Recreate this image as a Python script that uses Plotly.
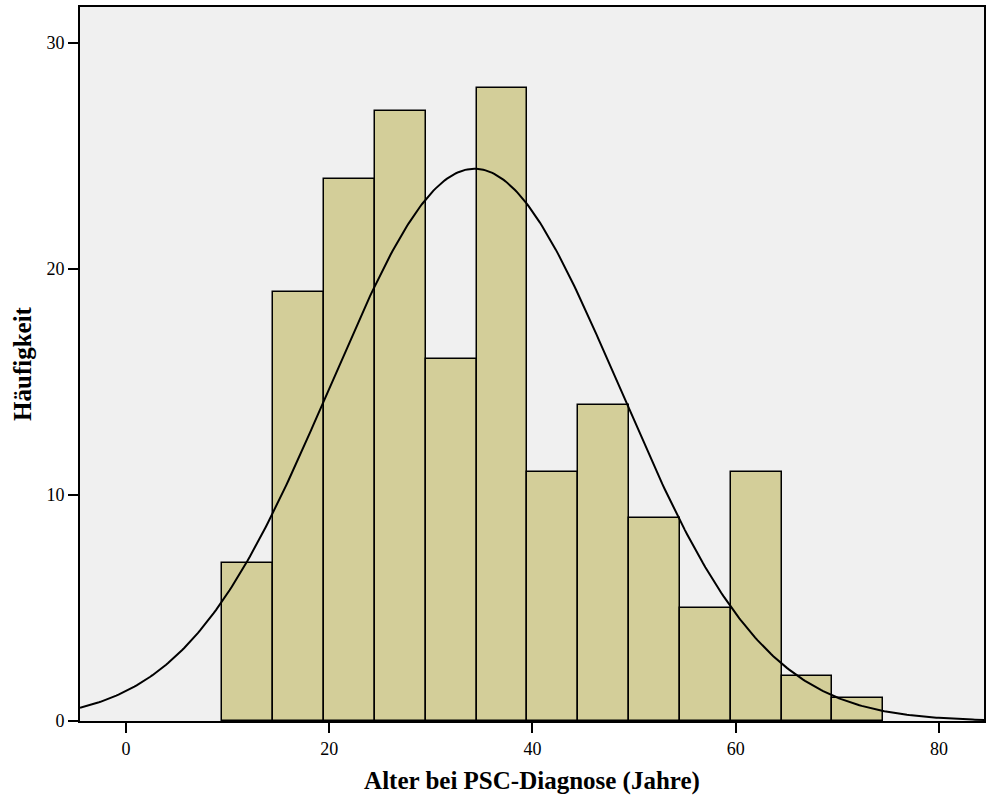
import numpy as np
import plotly.graph_objects as go

bin_centers = [12, 17, 22, 27, 32, 37, 42, 47, 52, 57, 62, 67, 72]
counts = [7, 19, 24, 27, 16, 28, 11, 14, 9, 5, 11, 2, 1]
bin_width = 5
fit_mean = 34.3
fit_sd = 14.2
n_total = sum(counts)

x_tick_vals = [0, 20, 40, 60, 80]
y_tick_vals = [0, 10, 20, 30]

x_range = [-4.515, 84.42]
xs = np.linspace(x_range[0], x_range[1], 400)
ys = n_total * bin_width / (fit_sd * np.sqrt(2 * np.pi)) * np.exp(-0.5 * ((xs - fit_mean) / fit_sd) ** 2)

fig = go.Figure()
fig.add_trace(go.Bar(
    x=bin_centers, y=counts, width=bin_width,
    marker=dict(color="#D3CE99", line=dict(color="black", width=1.5)),
    showlegend=False, hoverinfo="x+y"))
fig.add_trace(go.Scatter(
    x=xs, y=ys, mode="lines", line=dict(color="black", width=2),
    showlegend=False, hoverinfo="skip"))

axis_font = dict(family="Liberation Serif", size=18, color="black")
fig.update_layout(
    width=988, height=798,
    margin=dict(l=80, r=2, t=7, b=77),
    paper_bgcolor="white", plot_bgcolor="#F0F0F0",
    bargap=0,
    font=dict(family="Liberation Serif", color="black"),
    xaxis=dict(range=x_range, tickvals=x_tick_vals, ticks="outside", ticklen=10,
               tickwidth=2, tickcolor="black", tickfont=axis_font, showgrid=False,
               zeroline=False, showline=True, linecolor="black", linewidth=2, mirror=True,
               title=dict(text="<b>Alter bei PSC-Diagnose (Jahre)</b>",
                          font=dict(family="Liberation Serif", size=25, color="black"),
                          standoff=14)),
    yaxis=dict(range=[0, 31.6], tickvals=y_tick_vals, ticks="outside", ticklen=10,
               tickwidth=2, tickcolor="black", tickfont=axis_font, showgrid=False,
               zeroline=False, showline=True, linecolor="black", linewidth=2, mirror=True,
               title=dict(text="<b>Häufigkeit</b>",
                          font=dict(family="Liberation Serif", size=25, color="black"),
                          standoff=8)),
)
fig.write_html("out.html")
